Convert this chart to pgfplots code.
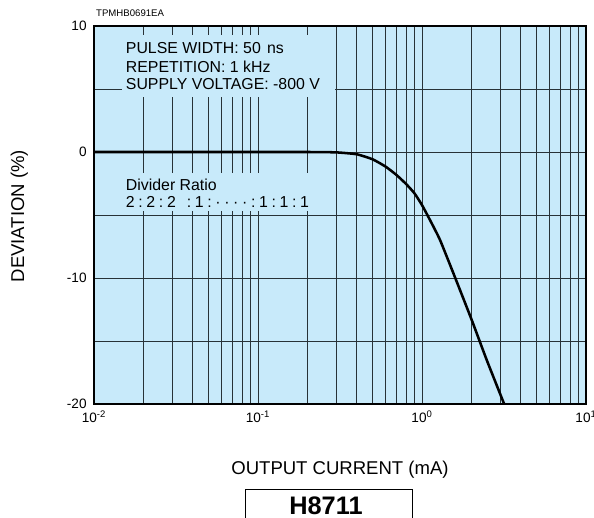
\documentclass[border=0pt]{standalone}
\usepackage{fontspec}
\setmainfont{Liberation Sans}
\usepackage{pgfplots}
\pgfplotsset{compat=1.18}
\definecolor{bgblue}{RGB}{200,234,250}
\definecolor{gridc}{RGB}{40,50,55}
\newcommand\gp{\hspace{0.23em}}
\begin{document}
\begin{tikzpicture}
\path[use as bounding box] (0pt,0pt) rectangle (445.5pt,388.5pt);
\begin{axis}[
  at={(70.5pt,85.5pt)}, anchor=south west,
  scale only axis, width=369pt, height=283.5pt,
  xmode=log, xmin=0.01, xmax=10, ymin=-20, ymax=10,
  xtick={0.01,0.1,1,10},
  xticklabels={10\textsuperscript{-2},10\textsuperscript{-1},10\textsuperscript{0},10\textsuperscript{1}},
  ytick={-20,-10,0,10}, minor ytick={-15,-5,5},
  grid=both,
  major grid style={gridc, line width=0.6pt},
  minor grid style={gridc, line width=0.6pt},
  major tick length=0pt, minor tick length=0pt,
  axis line style={line width=1.3pt},
  axis background/.style={fill=bgblue},
  /pgf/number format/assume math mode=true,
  tick label style={font=\fontsize{10.2}{12}\selectfont},
  yticklabel style={xshift=-2pt},
  xticklabel style={yshift=-1.5pt},
  xlabel={OUTPUT CURRENT (mA)},
  ylabel={DEVIATION (\%)},
  label style={font=\fontsize{13.9}{16}\selectfont},
  xlabel style={at={(axis description cs:0.5,-0.175)}, anchor=center},
  ylabel style={at={(axis description cs:-0.152,0.497)}, anchor=center},
  clip=false,
]
\fill[bgblue] (rel axis cs:0.0569,0.8122) rectangle (rel axis cs:0.4898,0.9762);
\fill[bgblue] (rel axis cs:0.0569,0.5106) rectangle (rel axis cs:0.445,0.611);
\addplot[black, line width=1.9pt, smooth, tension=0.3] coordinates {
(0.01,0) (0.1,0) (0.2,0) (0.3,-0.03) (0.4,-0.18) (0.5,-0.58) (0.6,-1.16)
(0.7,-1.83) (0.8,-2.54) (0.9,-3.28) (1.0,-4.21) (1.119,-5.40) (1.288,-6.98)
(1.589,-9.94) (2.01,-13.33) (2.48,-16.5) (3.17,-20)
};
\begin{scope}[every node/.style={anchor=base west, inner sep=0pt, font=\fontsize{11.9}{14}\selectfont}]
\node at (rel axis cs:0.0644,0.926) {PULSE WIDTH: 50\hspace{0.4em}ns};
\node at (rel axis cs:0.0644,0.8775) {REPETITION: 1 kHz};
\node at (rel axis cs:0.0644,0.8307) {SUPPLY VOLTAGE: -800 V};
\node at (rel axis cs:0.0644,0.566) {Divider Ratio};
\node at (rel axis cs:0.0644,0.520) {2\gp:\gp2\gp:\gp2\gp\gp\gp:\gp1\gp:\gp·\gp·\gp·\gp·\gp:\gp1\gp:\gp1\gp:\gp1};
\end{scope}
\node[anchor=base west, inner sep=0pt, font=\fontsize{7.2}{9}\selectfont] at (rel axis cs:0.004,1.024) {TPMHB0691EA};
\end{axis}
\draw[line width=0.6pt] (183.75pt,-15pt) -- (183.75pt,21.75pt) -- (309pt,21.75pt) -- (309pt,-15pt);
\node[anchor=base, inner sep=0pt, font=\fontsize{19}{22}\selectfont\bfseries] at (244.5pt,2.5pt) {H8711};
\end{tikzpicture}
\end{document}
